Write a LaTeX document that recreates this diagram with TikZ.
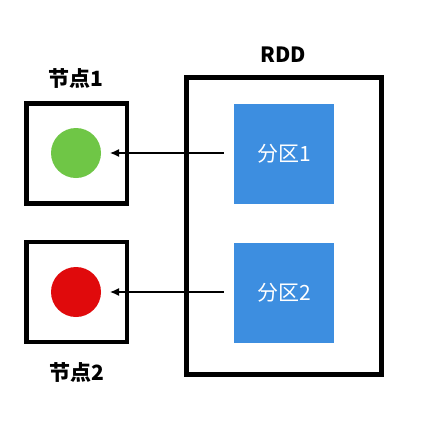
\documentclass[tikz,border=0pt]{standalone}
\usepackage{fontspec}
\newfontfamily\cjk{Noto Sans CJK SC}
\newfontfamily\cjkb{Noto Sans CJK SC Bold}
\usetikzlibrary{arrows.meta}
\definecolor{gnode}{HTML}{6FC646}
\definecolor{rnode}{HTML}{E00A0C}
\definecolor{pblue}{HTML}{3D8EE0}
\tikzset{
  frame/.style={draw=black, line width=4.5pt},
  part/.style={fill=pblue, draw=none, minimum width=100pt, minimum height=100pt, text=white, font=\cjk\fontsize{21}{24}\selectfont},
  lbl/.style={font=\cjk\bfseries\fontsize{21}{24}\selectfont, text=black},
  conn/.style={-{Latex[length=9pt,width=8pt]}, line width=1.3pt}
}
\begin{document}
\begin{tikzpicture}[x=1pt,y=-1pt]
\useasboundingbox[fill=white] (0,0) rectangle (428,424);
\draw[frame] (26.5,103.5) rectangle (127,203.5);
\draw[frame] (26.5,242) rectangle (127,342);
\draw[frame] (186.5,77.5) rectangle (381.5,374.5);
\node[circle, fill=gnode, minimum size=50pt, inner sep=0pt] (g) at (76,153) {};
\node[circle, fill=rnode, minimum size=50pt, inner sep=0pt] (r) at (76,292) {};
\node[part] (p1) at (284,154) {分区1};
\node[part] (p2) at (284,293) {分区2};
\node[lbl] (rdd) at (283,55) {RDD};
\node[lbl] (n1) at (76,78) {节点1};
\node[lbl] (n2) at (77,372) {节点2};
\coordinate (t1) at (110,153);
\coordinate (t2) at (110,292);
\draw[conn] (p1.west|-t1) ++(-10,0) -- (t1);
\draw[conn] (p2.west|-t2) ++(-10,0) -- (t2);
\end{tikzpicture}
\end{document}
